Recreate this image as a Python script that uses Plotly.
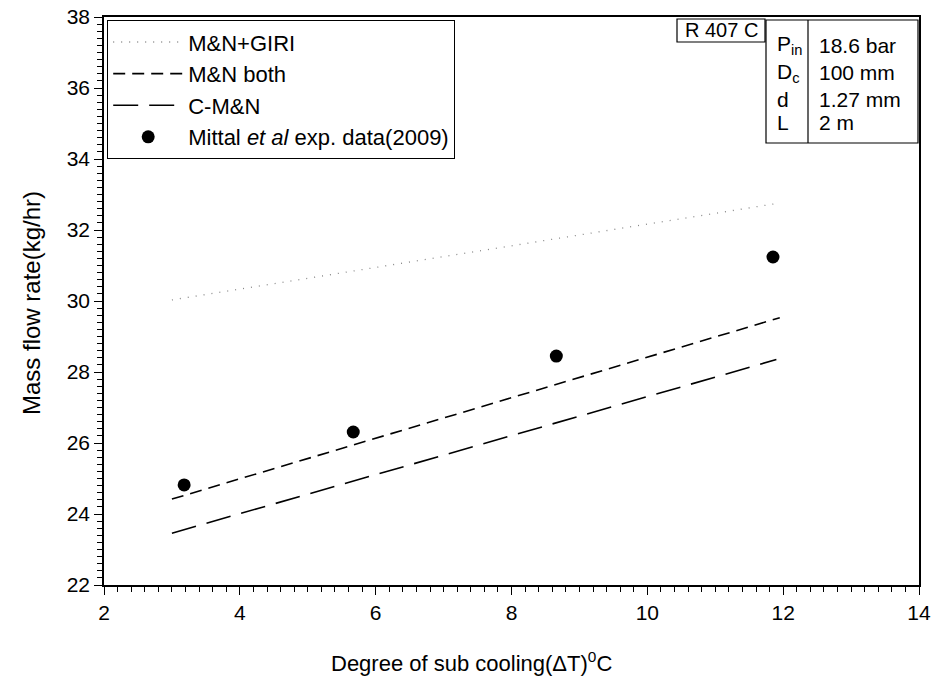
import plotly.graph_objects as go

# ---- data ----
giri_x = [3.0, 11.95]
giri_y = [30.03, 32.76]
mn_both_x = [3.0, 11.95]
mn_both_y = [24.42, 29.53]
cmn_x = [3.0, 11.9]
cmn_y = [23.46, 28.35]
exp_x = [3.18, 5.67, 8.66, 11.85]
exp_y = [24.82, 26.31, 28.45, 31.24]

table_labels = ["P<sub>in</sub>", "D<sub>c</sub>", "d", "L"]
table_values = ["18.6 bar", "100 mm", "1.27 mm", "2 m"]

FONT = "Liberation Sans, Arial, sans-serif"
W, H = 933, 687
L, R, T, B = 104, 919, 17, 585


def px(x):
    return (x - L) / (R - L)


def py(y):
    return (B - y) / (B - T)


fig = go.Figure()
fig.add_trace(go.Scatter(x=giri_x, y=giri_y, mode="lines", name="M&N+GIRI",
                         legendgroup="a",
                         line=dict(color="#888888", width=1.3, dash="1px,7px")))
fig.add_trace(go.Scatter(x=mn_both_x, y=mn_both_y, mode="lines", name="M&N both",
                         legendgroup="b",
                         line=dict(color="black", width=1.6, dash="12px,7px")))
fig.add_trace(go.Scatter(x=cmn_x, y=cmn_y, mode="lines", name="C-M&N",
                         legendgroup="c",
                         line=dict(color="black", width=1.6, dash="25px,11px")))
fig.add_trace(go.Scatter(x=exp_x, y=exp_y, mode="markers",
                         name="Mittal <i>et al</i> exp. data(2009)",
                         legendgroup="d",
                         marker=dict(color="black", size=13)))

shapes = []
# legend divider
shapes.append(dict(type="line", xref="paper", yref="paper",
                   x0=px(187), x1=px(187), y0=py(20), y1=py(151),
                   line=dict(color="black", width=1.2)))
# R 407 C box
shapes.append(dict(type="rect", xref="paper", yref="paper",
                   x0=px(677), x1=px(765), y0=py(42), y1=py(19),
                   line=dict(color="black", width=1.2)))
# table box
shapes.append(dict(type="rect", xref="paper", yref="paper",
                   x0=px(766), x1=px(918), y0=py(143), y1=py(20),
                   line=dict(color="black", width=1.2)))
shapes.append(dict(type="line", xref="paper", yref="paper",
                   x0=px(808), x1=px(808), y0=py(143), y1=py(20),
                   line=dict(color="black", width=1.2)))

annotations = []
annotations.append(dict(text="R 407 C", xref="paper", yref="paper",
                        x=px(721), y=py(30), showarrow=False,
                        font=dict(family=FONT, size=20, color="black"),
                        xanchor="center", yanchor="middle"))
row_y = [45, 73, 100, 122]
for lab, val, yy in zip(table_labels, table_values, row_y):
    annotations.append(dict(text=lab, xref="paper", yref="paper",
                            x=px(775), y=py(yy), showarrow=False,
                            font=dict(family=FONT, size=21, color="black"),
                            xanchor="left", yanchor="middle"))
    annotations.append(dict(text=val, xref="paper", yref="paper",
                            x=px(817), y=py(yy), showarrow=False,
                            font=dict(family=FONT, size=21, color="black"),
                            xanchor="left", yanchor="middle"))
annotations.append(dict(text="Degree of sub cooling(ΔT)<sup>0</sup>C",
                        xref="paper", yref="paper", x=px(471), y=py(662),
                        showarrow=False, xanchor="center", yanchor="middle",
                        font=dict(family=FONT, size=22, color="black")))
annotations.append(dict(text="Mass flow rate(kg/hr)", xref="paper", yref="paper",
                        x=px(31), y=py(303), showarrow=False, textangle=-90,
                        xanchor="center", yanchor="middle",
                        font=dict(family=FONT, size=24, color="black")))

axis_common = dict(showline=True, linecolor="black", linewidth=1.5, mirror=True,
                   ticks="outside", ticklen=8, tickwidth=1.2, tickcolor="black",
                   showgrid=False, zeroline=False, automargin=False,
                   tickfont=dict(family=FONT, size=21, color="black"))

fig.update_layout(
    width=W, height=H,
    margin=dict(l=L, r=W - R, t=T, b=H - B, pad=0),
    plot_bgcolor="white", paper_bgcolor="white",
    font=dict(family=FONT, color="black"),
    xaxis=dict(range=[2, 14], dtick=2, tick0=2,
               minor=dict(dtick=0.2, ticks="outside", ticklen=5,
                          tickcolor="black", tickwidth=1),
               **axis_common),
    yaxis=dict(range=[22, 38], dtick=2, tick0=22,
               minor=dict(dtick=0.2, ticks="outside", ticklen=5,
                          tickcolor="black", tickwidth=1),
               **axis_common),
    showlegend=True,
    legend=dict(x=px(107), y=py(20), xanchor="left", yanchor="top",
                bordercolor="black", borderwidth=1.2, bgcolor="white",
                traceorder="grouped", tracegroupgap=0, itemwidth=70,
                font=dict(family=FONT, size=22, color="black")),
    shapes=shapes,
    annotations=annotations,
)

fig.write_html("out.html",
               config={"displayModeBar": False},
               post_script="document.body.style.margin='0';"
                           "document.body.style.padding='0';")
